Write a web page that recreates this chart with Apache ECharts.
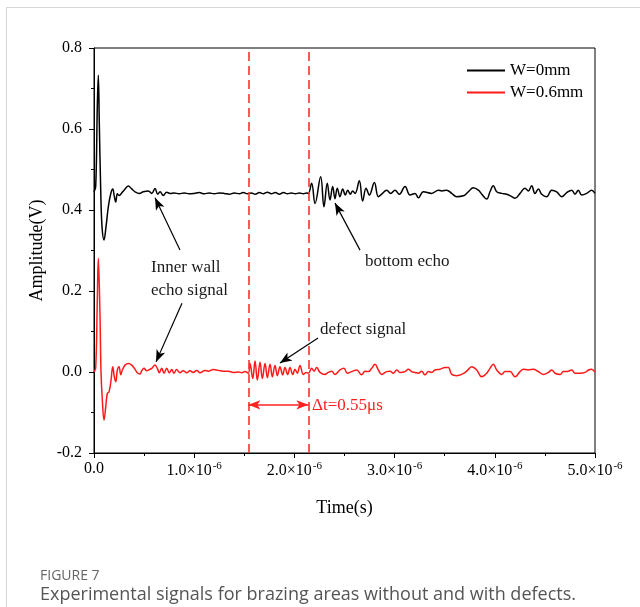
<!DOCTYPE html>
<html>
<head>
<meta charset="utf-8">
<script src="https://cdn.jsdelivr.net/npm/echarts@6/dist/echarts.min.js"></script>
<style>
  html, body { margin: 0; padding: 0; background: #fff; }
  #main { width: 640px; height: 607px; }
</style>
</head>
<body>
<div id="main"></div>
<script>
// time in microseconds, amplitude in volts
var sig0mm = [
  [0, 0.445], [0.017, 0.458], [0.033, 0.655], [0.043, 0.733], [0.053, 0.614], [0.067, 0.449],
  [0.08, 0.359], [0.10, 0.326], [0.12, 0.359], [0.143, 0.408], [0.167, 0.44], [0.187, 0.452],
  [0.203, 0.433], [0.217, 0.42], [0.233, 0.44], [0.25, 0.436], [0.273, 0.441], [0.30, 0.449],
  [0.343, 0.459], [0.376, 0.452], [0.41, 0.445], [0.452, 0.441], [0.492, 0.445], [0.542, 0.447],
  [0.576, 0.441], [0.609, 0.453], [0.636, 0.439], [0.659, 0.445], [0.692, 0.436], [0.725, 0.444],
  [0.759, 0.441], [0.80, 0.442], [0.85, 0.440], [0.90, 0.442], [0.95, 0.440], [1.00, 0.441],
  [1.05, 0.443], [1.10, 0.440], [1.15, 0.442], [1.20, 0.440], [1.25, 0.442], [1.30, 0.441],
  [1.35, 0.439], [1.40, 0.442], [1.45, 0.440], [1.49, 0.443], [1.53, 0.440], [1.57, 0.442],
  [1.61, 0.439], [1.65, 0.443], [1.69, 0.440], [1.73, 0.444], [1.77, 0.440], [1.81, 0.443],
  [1.85, 0.439], [1.89, 0.443], [1.93, 0.440], [1.97, 0.442], [2.01, 0.440], [2.05, 0.442],
  [2.09, 0.440], [2.12, 0.442], [2.139, 0.441], [2.172, 0.466], [2.206, 0.416], [2.262, 0.482],
  [2.295, 0.408], [2.328, 0.466], [2.355, 0.425], [2.382, 0.458], [2.405, 0.428], [2.428, 0.454],
  [2.455, 0.433], [2.482, 0.452], [2.508, 0.437], [2.532, 0.449], [2.558, 0.439], [2.582, 0.447],
  [2.605, 0.441], [2.648, 0.472], [2.681, 0.422], [2.715, 0.454], [2.748, 0.437], [2.798, 0.468],
  [2.838, 0.433], [2.871, 0.439], [2.921, 0.449], [2.961, 0.441], [3.004, 0.449], [3.047, 0.439],
  [3.104, 0.458], [3.154, 0.437], [3.204, 0.441], [3.237, 0.430], [3.287, 0.445], [3.370, 0.441],
  [3.437, 0.449], [3.47, 0.447], [3.520, 0.449], [3.570, 0.441], [3.620, 0.433], [3.686, 0.435],
  [3.736, 0.445], [3.786, 0.455], [3.836, 0.449], [3.870, 0.439], [3.919, 0.427], [3.952, 0.445],
  [3.985, 0.460], [4.019, 0.445], [4.069, 0.441], [4.119, 0.439], [4.169, 0.433], [4.202, 0.429],
  [4.252, 0.441], [4.301, 0.454], [4.335, 0.447], [4.368, 0.460], [4.401, 0.441], [4.435, 0.452],
  [4.468, 0.439], [4.518, 0.433], [4.568, 0.449], [4.618, 0.445], [4.668, 0.433], [4.718, 0.443],
  [4.768, 0.449], [4.80, 0.439], [4.834, 0.449], [4.867, 0.437], [4.917, 0.441], [4.967, 0.449],
  [5.0, 0.441]
];

var sig06mm = [
  [0, 0.0], [0.017, 0.01], [0.033, 0.178], [0.043, 0.281], [0.06, 0.137], [0.07, 0.0],
  [0.083, -0.069], [0.10, -0.119], [0.117, -0.086], [0.133, -0.053], [0.15, -0.049], [0.17, -0.02],
  [0.187, 0.013], [0.203, -0.012], [0.217, -0.024], [0.233, 0.005], [0.25, 0.013], [0.267, -0.007],
  [0.283, 0.005], [0.31, 0.017], [0.343, 0.021], [0.376, 0.017], [0.409, 0.007], [0.432, -0.002],
  [0.459, -0.005], [0.476, 0.003], [0.499, 0.009], [0.526, 0.003], [0.552, 0.006], [0.576, 0.009],
  [0.609, 0.017], [0.632, 0.009], [0.652, -0.002], [0.676, 0.009], [0.699, -0.003], [0.726, 0.009],
  [0.752, -0.002], [0.776, 0.006], [0.798, -0.003], [0.825, 0.006], [0.858, -0.002], [0.89, 0.003],
  [0.925, -0.002], [0.958, 0.003], [0.99, -0.001], [1.025, 0.004], [1.058, -0.002], [1.108, 0.004],
  [1.14, 0.002], [1.19, 0.006], [1.24, 0.004], [1.29, 0.002], [1.34, 0.002], [1.39, -0.001],
  [1.44, 0.0], [1.477, -0.002], [1.507, 0.001], [1.540, -0.003],
  [1.557, 0.021], [1.584, -0.016], [1.607, 0.027], [1.630, -0.020], [1.657, 0.024], [1.680, -0.016],
  [1.707, 0.021], [1.730, -0.014], [1.757, 0.019], [1.780, -0.012], [1.806, 0.016], [1.830, -0.009],
  [1.856, 0.013], [1.883, -0.007], [1.906, 0.011], [1.933, -0.006], [1.956, 0.011], [1.983, -0.006],
  [2.006, 0.007], [2.029, -0.003], [2.056, 0.016], [2.089, -0.006], [2.116, -0.001], [2.139, -0.003],
  [2.172, 0.009], [2.196, 0.002], [2.222, 0.011], [2.256, -0.001], [2.305, -0.006], [2.338, -0.001],
  [2.372, 0.002], [2.405, -0.006], [2.455, 0.005], [2.495, 0.009], [2.528, -0.003], [2.572, 0.001],
  [2.622, 0.005], [2.671, -0.007], [2.705, 0.002], [2.738, 0.001], [2.771, 0.009], [2.804, 0.019],
  [2.838, 0.005], [2.871, -0.006], [2.921, 0.001], [2.954, 0.002], [2.987, -0.003], [3.021, 0.005],
  [3.054, -0.001], [3.104, 0.001], [3.137, 0.007], [3.170, 0.001], [3.204, -0.001], [3.237, -0.003],
  [3.270, 0.002], [3.303, -0.007], [3.337, 0.001], [3.370, -0.001], [3.403, 0.005], [3.453, 0.007],
  [3.503, 0.011], [3.536, 0.011], [3.570, -0.006], [3.620, -0.009], [3.669, -0.006], [3.719, 0.002],
  [3.769, 0.013], [3.819, 0.005], [3.869, -0.012], [3.919, -0.003], [3.952, 0.009], [3.985, 0.019],
  [4.019, 0.005], [4.069, -0.006], [4.102, 0.001], [4.152, 0.001], [4.202, -0.012], [4.252, 0.001],
  [4.285, 0.007], [4.335, 0.005], [4.385, 0.007], [4.435, 0.001], [4.485, -0.006], [4.535, -0.001],
  [4.568, 0.005], [4.601, -0.003], [4.651, -0.006], [4.684, 0.001], [4.734, 0.002], [4.768, 0.005],
  [4.801, -0.003], [4.851, -0.003], [4.901, -0.001], [4.934, 0.005], [4.967, 0.007], [5.0, -0.001]
];

var seriesNames = ['W=0mm', 'W=0.6mm'];
var markerTimes = [1.54, 2.14];           // dashed red lines (us)
var deltaLabel = '\u0394t=0.55\u03bcs';

// arrows: [tail, head] in data coords
var arrows = [
  [[0.858, 0.301], [0.609, 0.430]],
  [[0.878, 0.170], [0.619, 0.025]],
  [[2.655, 0.301], [2.405, 0.417]],
  [[2.236, 0.084], [1.856, 0.022]]
];
// text notes: [text, t, v]
var notes = [
  ['Inner wall', 0.569, 0.257],
  ['echo signal', 0.569, 0.200],
  ['bottom echo', 2.705, 0.272],
  ['defect signal', 2.255, 0.104]
];

var serif = 'Liberation Serif, Times New Roman, serif';
var dom = document.getElementById('main');
var myChart = echarts.init(dom);

var markLineData = [];
markerTimes.forEach(function (t) {
  markLineData.push([
    { coord: [t, -0.2], symbol: 'none', lineStyle: { color: '#ff3030', type: [9, 5], width: 1.6 } },
    { coord: [t, 0.8], symbol: 'none' }
  ]);
});
arrows.forEach(function (a) {
  markLineData.push([
    { coord: a[0], symbol: 'none', lineStyle: { color: '#000', width: 1.2, type: 'solid' } },
    { coord: a[1], symbol: 'arrow', symbolSize: [7, 12] }
  ]);
});
markLineData.push([
  { coord: [markerTimes[0], -0.081], symbol: 'arrow', symbolSize: [7, 12], lineStyle: { color: '#ff2020', width: 1.5, type: 'solid' } },
  { coord: [markerTimes[1], -0.081], symbol: 'arrow', symbolSize: [7, 12] }
]);

var option = {
  backgroundColor: '#fff',
  animation: false,
  grid: { left: 94, right: 45, top: 48, bottom: 154, show: true, borderColor: '#000', borderWidth: 1 },
  legend: {
    data: seriesNames,
    orient: 'vertical',
    left: 462,
    top: 57,
    icon: 'rect',
    itemWidth: 38,
    itemHeight: 2,
    itemGap: 5,
    textStyle: { fontFamily: serif, fontSize: 17, color: '#000' }
  },
  xAxis: {
    type: 'value',
    min: 0, max: 5, interval: 1,
    name: 'Time(s)',
    nameLocation: 'middle',
    nameGap: 46,
    nameTextStyle: { fontFamily: serif, fontSize: 18, color: '#000' },
    axisLine: { onZero: false, lineStyle: { color: '#000', width: 1 } },
    axisTick: { inside: false, length: 5, lineStyle: { color: '#000' } },
    minorTick: { show: true, splitNumber: 2, length: 3, lineStyle: { color: '#000' } },
    splitLine: { show: false },
    axisLabel: {
      margin: 8,
      color: '#000',
      fontFamily: serif,
      fontSize: 16,
      formatter: function (v) {
        if (v === 0) return '0.0';
        return '{m|' + v.toFixed(1) + '\u00d710}{s|-6}';
      },
      rich: {
        m: { fontFamily: serif, fontSize: 16, color: '#000' },
        s: { fontFamily: serif, fontSize: 11, color: '#000', verticalAlign: 'top', padding: [0, 0, 9, 1] }
      }
    }
  },
  yAxis: {
    type: 'value',
    min: -0.2, max: 0.8, interval: 0.2,
    name: 'Amplitude(V)',
    nameLocation: 'middle',
    nameGap: 47,
    nameTextStyle: { fontFamily: serif, fontSize: 18, color: '#000' },
    axisLine: { show: true, onZero: false, lineStyle: { color: '#000', width: 1 } },
    axisTick: { show: true, inside: false, length: 5, lineStyle: { color: '#000' } },
    minorTick: { show: true, splitNumber: 2, length: 3, lineStyle: { color: '#000' } },
    splitLine: { show: false },
    axisLabel: {
      margin: 12,
      color: '#000',
      fontFamily: serif,
      fontSize: 16,
      formatter: function (v) { return v.toFixed(1); }
    }
  },
  series: [
    {
      name: seriesNames[0],
      type: 'line',
      data: sig0mm,
      symbol: 'none',
      smooth: 0.4,
      lineStyle: { color: '#000', width: 1.5 },
      itemStyle: { color: '#000' },
      z: 3
    },
    {
      name: seriesNames[1],
      type: 'line',
      data: sig06mm,
      symbol: 'none',
      smooth: 0.4,
      lineStyle: { color: '#ff1a1a', width: 1.5 },
      itemStyle: { color: '#ff1a1a' },
      z: 3
    },
    {
      name: 'annot',
      type: 'line',
      data: [],
      z: 4,
      markLine: {
        silent: true,
        animation: false,
        symbol: ['none', 'none'],
        label: { show: false },
        data: markLineData
      }
    }
  ]
};

myChart.setOption(option, true);

// text notes placed through the axes
var graphics = [
  { type: 'rect', shape: { x: 6.5, y: 7.5, width: 700, height: 700 }, style: { fill: 'none', stroke: '#d6d6d6', lineWidth: 1 }, z: -10 },
  { type: 'text', left: 40, top: 569, style: { text: 'FIGURE 7', font: '14px "Open Sans", "Noto Sans", sans-serif', fill: '#666' } },
  { type: 'text', left: 40, top: 586, style: { text: 'Experimental signals for brazing areas without and with defects.', font: '18px "Open Sans", "Noto Sans", sans-serif', fill: '#555' } }
];
notes.forEach(function (n) {
  var p = myChart.convertToPixel({ gridIndex: 0 }, [n[1], n[2]]);
  graphics.push({
    type: 'text', x: p[0], y: p[1],
    style: { text: n[0], font: '17px ' + serif, fill: '#1a1a1a', textAlign: 'left', textVerticalAlign: 'middle', verticalAlign: 'middle' },
    z: 10
  });
});
var dp = myChart.convertToPixel({ gridIndex: 0 }, [2.176, -0.084]);
graphics.push({
  type: 'text', x: dp[0], y: dp[1],
  style: { text: deltaLabel, font: '17px ' + serif, fill: '#ff2020', textAlign: 'left', textVerticalAlign: 'middle', verticalAlign: 'middle' },
  z: 10
});
myChart.setOption({ graphic: graphics });
</script>
</body>
</html>
